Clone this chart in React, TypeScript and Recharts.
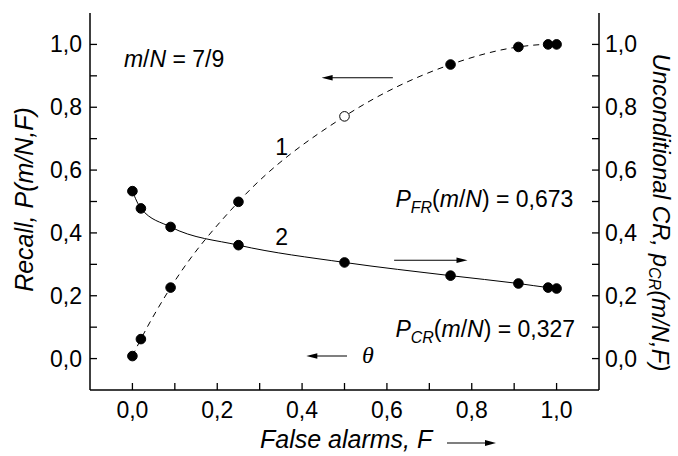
import { ComposedChart, Line, XAxis, YAxis, ReferenceDot, ReferenceLine } from 'recharts';

// false alarm rate F (shared by both curves)
const falseAlarms = [0.0, 0.02, 0.09, 0.25, 0.5, 0.75, 0.91, 0.98, 1.0];
// curve 1: recall P(m/N,F), left axis
const recall = [0.008, 0.062, 0.226, 0.499, 0.771, 0.936, 0.992, 1.0, 1.0];
// curve 2: unconditional correct rejections p_CR(m/N,F), right axis
const crRate = [0.533, 0.478, 0.419, 0.361, 0.306, 0.264, 0.239, 0.226, 0.223];
const openPointIndex = 4; // the hollow marker on curve 1

const tickValues = [0, 0.1, 0.2, 0.3, 0.4, 0.5, 0.6, 0.7, 0.8, 0.9, 1.0];
const labeledTicks = [0, 0.2, 0.4, 0.6, 0.8, 1.0];

const data = falseAlarms.map((f, i) => ({ f, recall: recall[i], cr: crRate[i] }));

const FS = 23; // ticks + annotations
const TS = 25; // axis titles
const fmt = (v: number) => v.toFixed(1).replace('.', ',');
const isLabeled = (v: number) => labeledTicks.some((t) => Math.abs(t - v) < 1e-6);

const BottomTick = ({ x, y, payload }: any) => (
  <g>
    <line x1={x} y1={y} x2={x} y2={y - 7} stroke="#000" strokeWidth={1.3} />
    {isLabeled(payload.value) && (
      <text x={x} y={y + 28} textAnchor="middle" fontSize={FS} fill="#000">{fmt(payload.value)}</text>
    )}
  </g>
);

const TopTick = ({ x, y }: any) => (
  <line x1={x} y1={y} x2={x} y2={y + 7} stroke="#000" strokeWidth={1.3} />
);

const LeftTick = ({ x, y, payload }: any) => (
  <g>
    <line x1={x} y1={y} x2={x + 7} y2={y} stroke="#000" strokeWidth={1.3} />
    {isLabeled(payload.value) && (
      <text x={x - 8} y={y + 8} textAnchor="end" fontSize={FS} fill="#000">{fmt(payload.value)}</text>
    )}
  </g>
);

const RightTick = ({ x, y, payload }: any) => (
  <g>
    <line x1={x} y1={y} x2={x - 7} y2={y} stroke="#000" strokeWidth={1.3} />
    {isLabeled(payload.value) && (
      <text x={x + 6} y={y + 8} textAnchor="start" fontSize={FS} fill="#000">{fmt(payload.value)}</text>
    )}
  </g>
);

const RecallDot = (p: any) => (
  <circle
    key={`r-${p.index}`}
    cx={p.cx}
    cy={p.cy}
    r={4.8}
    fill={p.index === openPointIndex ? '#fff' : '#000'}
    stroke="#000"
    strokeWidth={1}
  />
);

const CrDot = (p: any) => (
  <circle key={`c-${p.index}`} cx={p.cx} cy={p.cy} r={4.8} fill="#000" stroke="#000" strokeWidth={1} />
);

// line with arrowhead at its end point
const ArrowShape = (p: any) => {
  const { x1, y1, x2, y2 } = p;
  if (x1 == null || x2 == null) return <g />;
  const dir = x2 > x1 ? 1 : -1;
  return (
    <g>
      <line x1={x1} y1={y1} x2={x2 - dir * 6} y2={y2} stroke="#000" strokeWidth={1.1} />
      <polygon points={`${x2},${y2} ${x2 - dir * 11},${y2 - 2.8} ${x2 - dir * 11},${y2 + 2.8}`} fill="#000" />
    </g>
  );
};

const textAt = (content: any, anchor = 'start') => (p: any) => (
  <text x={p.cx} y={p.cy} textAnchor={anchor} fontSize={FS} fill="#000">{content}</text>
);

const ratioText = (
  <>
    <tspan fontStyle="italic">m</tspan>/<tspan fontStyle="italic">N</tspan>
  </>
);

const pText = (sub: string, val: string) => (
  <>
    <tspan fontStyle="italic">P</tspan>
    <tspan fontStyle="italic" fontSize={16} dy={6}>{sub}</tspan>
    <tspan dy={-6}>(</tspan>
    <tspan fontStyle="italic">m</tspan>/<tspan fontStyle="italic">N</tspan>) = {val}
  </>
);

const LeftLabel = (p: any) => {
  const vb = p.viewBox || { x: 0, y: 13, width: 90, height: 377 };
  const cx = vb.x + 24;
  const cy = vb.y + vb.height / 2 - 2;
  return (
    <text x={cx} y={cy} transform={`rotate(-90, ${cx}, ${cy})`} textAnchor="middle" dominantBaseline="central" fontSize={TS} fontStyle="italic" fill="#000">
      Recall, P(m/N,F)
    </text>
  );
};

const RightLabel = (p: any) => {
  const vb = p.viewBox || { x: 599, y: 13, width: 79, height: 377 };
  const cx = vb.x + 62;
  const cy = vb.y + vb.height / 2 + 11;
  return (
    <text x={cx} y={cy} transform={`rotate(90, ${cx}, ${cy})`} textAnchor="middle" dominantBaseline="central" fontSize={24} fontStyle="italic" fill="#000">
      Unconditional CR, p<tspan fontSize={16} dy={6}>CR</tspan><tspan dy={-6}>(m/N,F)</tspan>
    </text>
  );
};

const BottomLabel = (p: any) => {
  const vb = p.viewBox || { x: 90, y: 390, width: 509, height: 66 };
  const tx = vb.x + 170;
  const ty = vb.y + 58;
  return (
    <g>
      <text x={tx} y={ty} fontSize={TS} fontStyle="italic" fill="#000">False alarms, F</text>
      <line x1={tx + 187} y1={ty - 5} x2={tx + 228} y2={ty - 5} stroke="#000" strokeWidth={1.2} />
      <polygon points={`${tx + 236},${ty - 5} ${tx + 225},${ty - 8} ${tx + 225},${ty - 2}`} fill="#000" />
    </g>
  );
};

export default function App() {
  return (
    <div style={{ position: 'fixed', left: 0, top: 0, background: '#fff', fontFamily: '"Liberation Sans", Arial, sans-serif' }}>
      <ComposedChart width={678} height={456} data={data} margin={{ top: 13, right: 0, bottom: 0, left: 0 }}>
        <XAxis
          dataKey="f"
          type="number"
          domain={[-0.1, 1.1]}
          ticks={tickValues}
          interval={0}
          height={66}
          tickSize={0}
          tickMargin={0}
          tickLine={false}
          tick={BottomTick}
          axisLine={{ stroke: '#000', strokeWidth: 1.5 }}
          allowDataOverflow
          label={BottomLabel}
        />
        <XAxis
          xAxisId="top"
          orientation="top"
          type="number"
          domain={[-0.1, 1.1]}
          ticks={tickValues}
          interval={0}
          height={0}
          tickSize={0}
          tickMargin={0}
          tickLine={false}
          tick={TopTick}
          axisLine={{ stroke: '#000', strokeWidth: 1.5 }}
          allowDataOverflow
        />
        <YAxis
          yAxisId="left"
          type="number"
          domain={[-0.1, 1.1]}
          ticks={tickValues}
          interval={0}
          width={90}
          tickSize={0}
          tickMargin={0}
          tickLine={false}
          tick={LeftTick}
          axisLine={{ stroke: '#000', strokeWidth: 1.5 }}
          allowDataOverflow
          label={LeftLabel}
        />
        <YAxis
          yAxisId="right"
          orientation="right"
          type="number"
          domain={[-0.1, 1.1]}
          ticks={tickValues}
          interval={0}
          width={79}
          tickSize={0}
          tickMargin={0}
          tickLine={false}
          tick={RightTick}
          axisLine={{ stroke: '#000', strokeWidth: 1.5 }}
          allowDataOverflow
          label={RightLabel}
        />

        <Line
          yAxisId="left"
          type="monotone"
          dataKey="recall"
          stroke="#000"
          strokeWidth={1}
          strokeDasharray="6 5"
          dot={RecallDot}
          activeDot={false}
          isAnimationActive={false}
        />
        <Line
          yAxisId="right"
          type="monotone"
          dataKey="cr"
          stroke="#000"
          strokeWidth={1}
          dot={CrDot}
          activeDot={false}
          isAnimationActive={false}
        />

        {/* annotations */}
        <ReferenceDot yAxisId="left" x={-0.02} y={0.928} r={0} shape={textAt(<>{ratioText} = 7/9</>)} />
        <ReferenceDot yAxisId="left" x={0.352} y={0.648} r={0} shape={textAt('1', 'middle')} />
        <ReferenceDot yAxisId="left" x={0.352} y={0.361} r={0} shape={textAt('2', 'middle')} />
        <ReferenceDot yAxisId="left" x={0.62} y={0.483} r={0} shape={textAt(pText('FR', '0,673'))} />
        <ReferenceDot yAxisId="left" x={0.62} y={0.069} r={0} shape={textAt(pText('CR', '0,327'))} />
        <ReferenceDot
          yAxisId="left"
          x={0.555}
          y={-0.015}
          r={0}
          shape={(p: any) => (
            <text x={p.cx} y={p.cy} textAnchor="middle" fontSize={24} fontStyle="italic" fontFamily='"Liberation Serif", serif' fill="#000">θ</text>
          )}
        />
        <ReferenceLine yAxisId="left" segment={[{ x: 0.614, y: 0.894 }, { x: 0.446, y: 0.894 }]} shape={ArrowShape} />
        <ReferenceLine yAxisId="right" segment={[{ x: 0.617, y: 0.313 }, { x: 0.79, y: 0.313 }]} shape={ArrowShape} />
        <ReferenceLine yAxisId="left" segment={[{ x: 0.506, y: 0.008 }, { x: 0.41, y: 0.008 }]} shape={ArrowShape} />
      </ComposedChart>
    </div>
  );
}
